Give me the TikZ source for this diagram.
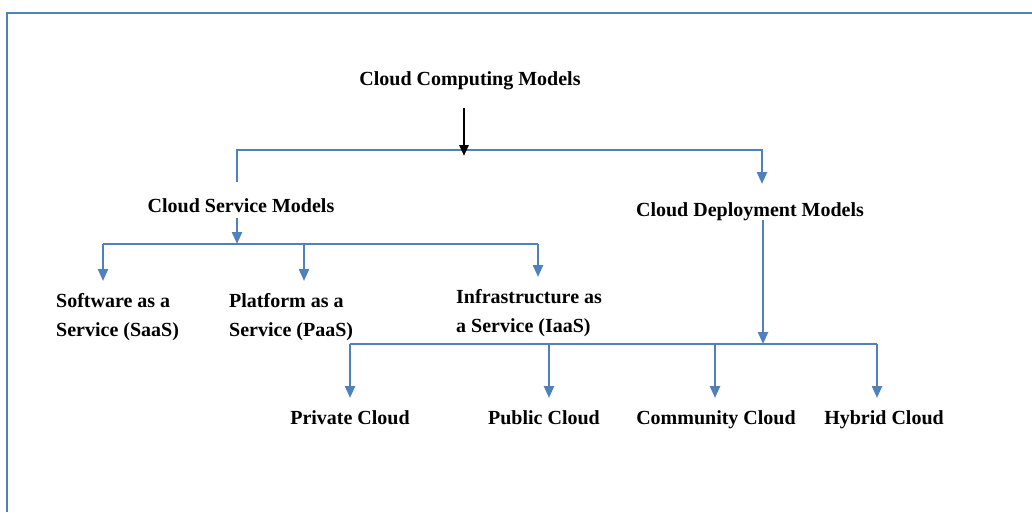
\documentclass[tikz,border=0pt]{standalone}
\usepackage{fontspec}
\setmainfont{Liberation Serif}
\usetikzlibrary{arrows.meta}
\definecolor{linkblue}{RGB}{79,129,189}
\tikzset{
  txt/.style={font=\bfseries\fontsize{20}{29}\selectfont, inner sep=0pt},
  link/.style={linkblue, line width=2.3pt},
  tip/.style={-{Triangle[length=12pt,width=10pt]}}
}
\begin{document}
\begin{tikzpicture}[x=1pt,y=-1pt]
\useasboundingbox (0,0) rectangle (1032,512);
\draw[linkblue, line width=2pt] (7,512) -- (7,13) -- (1032,13);
% titles
\node[txt, anchor=base] (root) at (470,85) {Cloud Computing Models};
\node[txt, anchor=base] (svc) at (241,212) {Cloud Service Models};
\node[txt, anchor=base] (dep) at (750,216) {Cloud Deployment Models};
% service models
\node[txt, anchor=west, align=left] (saas) at (56,317) {Software as a\\Service (SaaS)};
\node[txt, anchor=west, align=left] (paas) at (229,317) {Platform as a\\Service (PaaS)};
\node[txt, anchor=west, align=left] (iaas) at (456,313) {Infrastructure as\\a Service (IaaS)};
% deployment models
\node[txt, anchor=base] (priv) at (350,424) {Private Cloud};
\node[txt, anchor=base] (pub) at (544,424) {Public Cloud};
\node[txt, anchor=base] (comm) at (716,424) {Community Cloud};
\node[txt, anchor=base] (hyb) at (884,424) {Hybrid Cloud};
% bus points
\coordinate (rootout) at (464,108);
\coordinate (rootin) at (464,156);
\coordinate (busmid) at (464,150);
\coordinate (svcin) at (237,182);
\coordinate (depin) at (762,184);
\coordinate (svcout) at (237,218);
\coordinate (svcbus) at (237,244);
\coordinate (saasin) at (103,281);
\coordinate (paasin) at (304,281);
\coordinate (iaasin) at (538,277);
\coordinate (depout) at (763,220);
\coordinate (depbus) at (763,344);
\coordinate (privin) at (350,398);
\coordinate (pubin) at (549,398);
\coordinate (commin) at (715,398);
\coordinate (hybin) at (877,398);
% connectors
\draw[link, tip] (svcin) |- (busmid) -| (depin);
\draw[-{Triangle[length=11pt,width=9pt]}, line width=2.8pt] (rootout) -- (rootin);
\draw[link, tip] (svcout) -- (svcbus);
\draw[link] (saasin |- svcbus) -- (iaasin |- svcbus);
\foreach \t in {saasin,paasin,iaasin}
  \draw[link, tip] (\t |- svcbus) -- (\t);
\draw[link, tip] (depout) -- (depbus);
\draw[link] (privin |- depbus) -- (hybin |- depbus);
\foreach \t in {privin,pubin,commin,hybin}
  \draw[link, tip] (\t |- depbus) -- (\t);
\end{tikzpicture}
\end{document}
